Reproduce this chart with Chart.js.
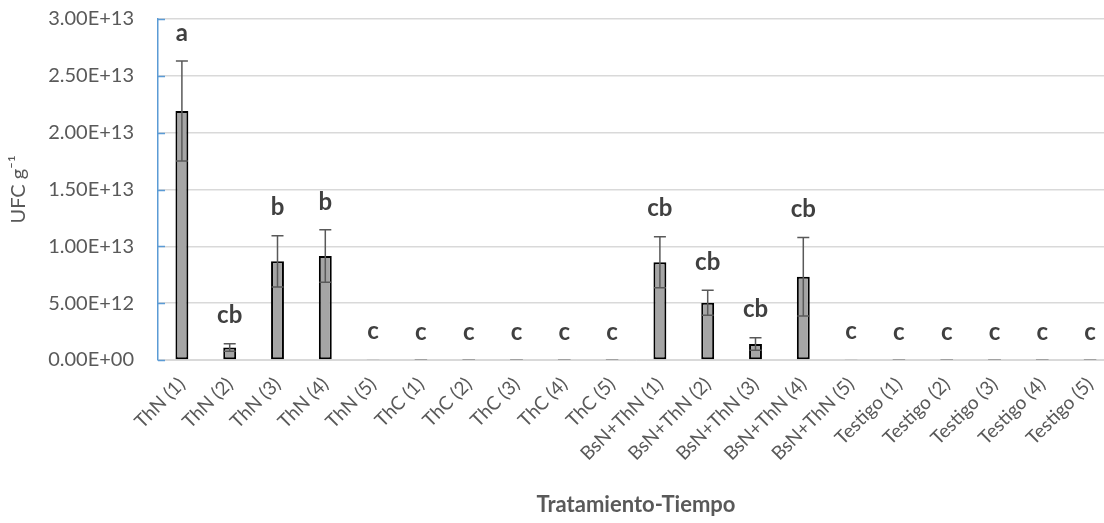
<!DOCTYPE html>
<html>
<head>
<meta charset="utf-8">
<script src="https://cdn.jsdelivr.net/npm/chart.js@4/dist/chart.umd.min.js"></script>
<style>
    body { margin: 0; background: #fff; overflow: hidden; }
    /* plot area runs a bit past the right edge, as in the source image */
    .chart-box { width: 1114px; height: 523px; }
</style>
</head>
<body>
<div class="chart-box"><canvas id="ufcChart"></canvas></div>
<script>
// Datos
const labels = ['ThN (1)', 'ThN (2)', 'ThN (3)', 'ThN (4)', 'ThN (5)',
    'ThC (1)', 'ThC (2)', 'ThC (3)', 'ThC (4)', 'ThC (5)',
    'BsN+ThN (1)', 'BsN+ThN (2)', 'BsN+ThN (3)', 'BsN+ThN (4)', 'BsN+ThN (5)',
    'Testigo (1)', 'Testigo (2)', 'Testigo (3)', 'Testigo (4)', 'Testigo (5)'];
const means = [2.19e13, 1.1e12, 8.68e12, 9.15e12, 4e10,
    1.5e10, 1.5e10, 1.5e10, 1.5e10, 1.5e10,
    8.6e12, 5.04e12, 1.41e12, 7.33e12, 4e10,
    1.5e10, 1.5e10, 1.5e10, 1.5e10, 1.5e10];
const errs = [4.4e12, 3.3e11, 2.25e12, 2.3e12, 0,
    0, 0, 0, 0, 0,
    2.25e12, 1.1e12, 5.5e11, 3.45e12, 0,
    0, 0, 0, 0, 0];
const letters = ['a', 'cb', 'b', 'b', 'c',
    'c', 'c', 'c', 'c', 'c',
    'cb', 'cb', 'cb', 'cb', 'c',
    'c', 'c', 'c', 'c', 'c'];
const yTicks = [0, 5e12, 1e13, 1.5e13, 2e13, 2.5e13, 3e13];

const fontName = 'Lato, "Open Sans", sans-serif';
const textGray = '#595959';

function sciLabel(v) {
    if (v === 0) return '0.00E+00';
    const exp = Math.floor(Math.log10(v));
    const mant = (v / Math.pow(10, exp)).toFixed(2);
    return mant + 'E+' + String(exp).padStart(2, '0');
}

// error bars + letters + inner ticks on the y axis
const extras = {
    id: 'extras',
    afterDatasetsDraw(chart) {
        const ctx = chart.ctx;
        const y = chart.scales.y;
        const meta = chart.getDatasetMeta(0);
        ctx.save();

        // small blue ticks inside the axis
        ctx.strokeStyle = '#5B9BD5';
        ctx.lineWidth = 1.5;
        yTicks.forEach(t => {
            const py = Math.round(y.getPixelForValue(t)) + 0.5;
            ctx.beginPath();
            ctx.moveTo(y.right, py);
            ctx.lineTo(y.right + 7, py);
            ctx.stroke();
        });

        meta.data.forEach((bar, i) => {
            const x = bar.x;
            const top = y.getPixelForValue(means[i] + errs[i]);
            const bottom = y.getPixelForValue(Math.max(0, means[i] - errs[i]));
            if (errs[i] > 0) {
                ctx.strokeStyle = '#595959';
                ctx.lineWidth = 1.5;
                ctx.beginPath();
                ctx.moveTo(x, top);
                ctx.lineTo(x, bottom);
                [top, bottom].forEach(py => {
                    ctx.moveTo(x - 6, py);
                    ctx.lineTo(x + 6, py);
                });
                ctx.stroke();
            }
            ctx.fillStyle = '#404040';
            ctx.font = 'bold 24px ' + fontName;
            ctx.textAlign = 'center';
            ctx.textBaseline = 'middle';
            ctx.fillText(letters[i], x, top - 28);
        });
        ctx.restore();
    }
};

window.addEventListener('DOMContentLoaded', () => {
    const ctx = document.getElementById('ufcChart').getContext('2d');

    new Chart(ctx, {
        type: 'bar',
        data: {
            labels: labels,
            datasets: [{
                label: 'UFC',
                data: means,
                backgroundColor: '#A5A5A5',
                borderColor: '#000000',
                borderWidth: 2,
                borderSkipped: false,
                categoryPercentage: 1,
                barPercentage: 0.27
            }]
        },
        options: {
            responsive: true,
            maintainAspectRatio: false,
            animation: false,
            layout: { padding: { top: 19, right: 0, left: 0, bottom: 0 } },
            plugins: {
                legend: { display: false },
                tooltip: { enabled: false }
            },
            scales: {
                x: {
                    afterFit: scale => {
                        scale.height = 163;
                        scale.paddingLeft = 0;
                        scale.paddingRight = 0;
                    },
                    grid: { display: false, drawTicks: false },
                    border: { display: true, color: '#D9D9D9' },
                    ticks: {
                        color: textGray,
                        font: { family: fontName, size: 19 },
                        minRotation: 45,
                        maxRotation: 45,
                        padding: 13,
                        autoSkip: false
                    },
                    title: {
                        display: true,
                        text: 'Tratamiento-Tiempo',
                        color: textGray,
                        font: { family: fontName, size: 22, weight: 'bold' },
                        padding: { top: 0, bottom: 5 }
                    }
                },
                y: {
                    min: 0,
                    max: 3e13,
                    afterBuildTicks: scale => {
                        scale.ticks = yTicks.map(v => ({ value: v }));
                    },
                    afterFit: scale => {
                        scale.width = 158;
                        scale.paddingTop = 0;
                        scale.paddingBottom = 0;
                    },
                    ticks: {
                        color: textGray,
                        font: { family: fontName, size: 20 },
                        padding: 24,
                        callback: v => sciLabel(v)
                    },
                    grid: {
                        color: '#D9D9D9',
                        lineWidth: 1.5,
                        drawTicks: false
                    },
                    border: { display: true, color: '#5B9BD5', width: 1.5 },
                    title: {
                        display: true,
                        text: 'UFC g⁻¹',
                        color: textGray,
                        font: { family: fontName, size: 20 },
                        padding: { top: 7, bottom: 0 }
                    }
                }
            }
        },
        plugins: [extras]
    });
});
</script>
</body>
</html>
